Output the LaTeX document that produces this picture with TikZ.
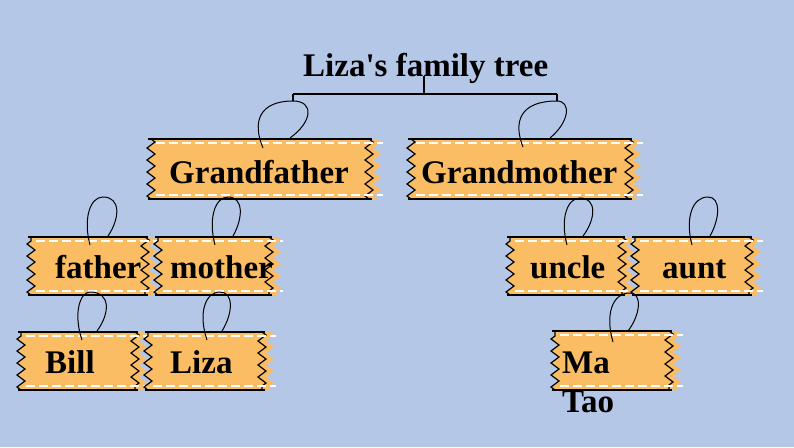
\documentclass[tikz,border=0pt]{standalone}
\usepackage{fontspec}
\setmainfont{Liberation Serif}
\usetikzlibrary{decorations.pathmorphing}
\definecolor{bgblue}{RGB}{180,199,231}
\definecolor{ribbon}{RGB}{251,189,99}
\tikzset{
  ribfill/.style={fill=ribbon},
  ribedge/.style={draw=black, line width=1.8pt},
  ribzig/.style={draw=black, line width=1.2pt, line join=miter},
  zz/.style={decoration={zigzag,segment length=12pt,amplitude=4pt}},
  stitch/.style={draw=white, line width=1.2pt, dash pattern=on 9pt off 4pt},
  lbl/.style={anchor=base west, inner sep=0pt, font=\bfseries\fontsize{33}{39}\selectfont},
  stringline/.style={draw=black, line width=1pt},
  bracketline/.style={draw=black, line width=2.2pt},
}
\newcommand\ribbonbox[4]{%
  \path[ribfill,zz] ({#1+3},#2) -- ({#3+5},#2) decorate{-- ({#3+5},#4)} -- ({#1+3},#4) decorate{-- ({#1+3},#2)} -- cycle;
  \draw[ribzig,zz] ({#3-3},#2) decorate{-- ({#3-3},#4)};
  \draw[ribzig,zz] ({#1+3},#4) decorate{-- ({#1+3},#2)};
  \draw[ribedge] (#1,#2) -- (#3,#2);
  \draw[ribedge] (#1,#4) -- (#3,#4);
  \draw[stitch] ({#1+8},{#2+4}) -- ({#3+11},{#2+4});
  \draw[stitch] ({#1+8},{#4-4}) -- ({#3+11},{#4-4});
}
% ex ey ox oy tx ty lx rx
\newcommand\strloop[8]{%
  \draw[stringline] (#1,#2) .. controls ({#7-5},{#2-0.55*(#2-#6)}) and ({#7+2},#6) .. (#5,#6)
    .. controls ({#8+4},#6) and ({#8+3},{#4-0.45*(#4-#6)}) .. (#3,#4);
}
\begin{document}
\begin{tikzpicture}[x=1pt,y=-1pt]
\fill[bgblue] (0,0) rectangle (794,447);
\useasboundingbox (0,0) rectangle (794,447);

% ribbons
\ribbonbox{148}{139}{372}{199}
\ribbonbox{408}{139}{632}{199}
\ribbonbox{28}{237}{148}{295}
\ribbonbox{155}{237}{272}{295}
\ribbonbox{18}{332}{138}{390}
\ribbonbox{145}{332}{265}{390}
\ribbonbox{507}{237}{625}{295}
\ribbonbox{632}{237}{752}{295}
\ribbonbox{552}{331}{672}{390}

% labels
\node[lbl] (title) at (303,76) {Liza\textquotesingle s family tree};
\node[lbl] (gf) at (169,183) {Grandfather};
\node[lbl] (gm) at (421,183) {Grandmother};
\node[lbl] (fa) at (55,278) {father};
\node[lbl] (mo) at (170,278) {mother};
\node[lbl] (bill) at (45,373) {Bill};
\node[lbl] (liza) at (170,373) {Liza};
\node[lbl] (un) at (530,278) {uncle};
\node[lbl] (au) at (662,278) {aunt};
\node[lbl] (ma) at (562,373) {\parbox[t]{100pt}{\raggedright Ma\\Tao}};

% bracket
\coordinate (stem) at (424,76);
\coordinate (bj) at (424,94);
\coordinate (bl) at (293,94);
\coordinate (br) at (557,94);
\coordinate (tl) at (293,101);
\coordinate (tr) at (557,101);
\draw[bracketline] (stem) -- (bj);
\draw[bracketline] (bl) -- (br);
\draw[bracketline] (bl) -- (tl);
\draw[bracketline] (br) -- (tr);

% strings
\strloop{263}{148}{290}{138}{293}{101}{257}{310}
\strloop{523}{147}{550}{138}{557}{101}{518}{567}
\strloop{90}{245}{108}{236}{103}{197}{88}{117}
\strloop{215}{245}{233}{236}{228}{197}{213}{240}
\strloop{82}{340}{97}{331}{90}{292}{78}{107}
\strloop{207}{340}{222}{331}{220}{292}{203}{230}
\strloop{567}{245}{583}{236}{580}{198}{565}{593}
\strloop{692}{245}{710}{236}{708}{197}{690}{717}
\strloop{613}{342}{628}{331}{630}{293}{610}{638}
\end{tikzpicture}
\end{document}
